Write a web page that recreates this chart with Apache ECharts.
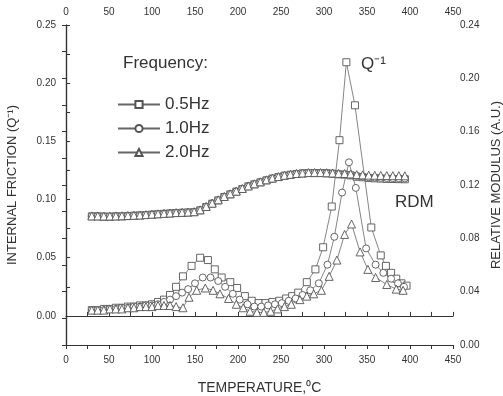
<!DOCTYPE html>
<html>
<head>
<meta charset="utf-8">
<script src="https://cdn.jsdelivr.net/npm/echarts@6/dist/echarts.min.js"></script>
<style>
  html, body { margin: 0; padding: 0; background: #fff; }
  #chart { width: 503px; height: 396px; }
</style>
</head>
<body>
<div id="chart"></div>
<script>
// temperatures (°C) and internal friction Q^-1 for each frequency
const tempQ05 = [30,37,44,51,58,65,72,79,86,93,100,107,114,121,128,136,146,156,165,173,181,191,199,208,216,224,232,240,248,256,263,270,280,290,299,309,318,326,336,355,366,372,378,384,390,396];
const q05 = [0.005,0.005,0.006,0.006,0.007,0.007,0.008,0.008,0.009,0.009,0.010,0.012,0.014,0.018,0.025,0.034,0.043,0.050,0.048,0.040,0.033,0.029,0.024,0.017,0.013,0.011,0.011,0.012,0.013,0.015,0.017,0.020,0.029,0.040,0.059,0.094,0.151,0.218,0.181,0.076,0.052,0.043,0.037,0.032,0.028,0.026];

const tempQ10 = [30,37,44,51,58,65,72,79,86,93,100,107,114,121,128,135,142,150,159,168,177,185,194,202,211,219,227,235,243,251,259,267,275,284,294,304,312,321,329,337,349,360,369,378,386,393];
const q10 = [0.005,0.005,0.005,0.006,0.006,0.007,0.007,0.008,0.008,0.009,0.009,0.010,0.012,0.014,0.017,0.020,0.023,0.028,0.033,0.033,0.030,0.025,0.019,0.014,0.010,0.008,0.008,0.009,0.010,0.011,0.013,0.015,0.018,0.022,0.028,0.044,0.068,0.106,0.132,0.110,0.058,0.044,0.037,0.032,0.028,0.025];

const tempQ20 = [30,37,44,51,58,65,72,79,86,93,100,107,114,121,128,136,143,152,162,171,179,189,198,206,214,222,230,238,246,254,262,272,280,288,297,306,315,324,332,342,351,360,373,384,392];
const q20 = [0.005,0.005,0.005,0.006,0.006,0.006,0.007,0.007,0.008,0.008,0.008,0.009,0.009,0.009,0.008,0.007,0.016,0.022,0.024,0.022,0.019,0.015,0.010,0.007,0.004,0.003,0.003,0.004,0.006,0.008,0.010,0.014,0.017,0.019,0.022,0.034,0.048,0.070,0.079,0.055,0.040,0.033,0.027,0.023,0.022];

// relative modulus (right axis)
const tempRdm = [30,37,44,51,58,65,72,79,86,93,100,107,114,121,128,135,142,149,156,163,170,177,184,191,198,205,212,219,226,233,240,247,254,261,268,275,282,289,296,303,310,317,324,331,338,345,352,359,366,373,380,387,394];
const rdm05 = [0.0965,0.0965,0.0963,0.0963,0.0965,0.0965,0.0967,0.0970,0.0972,0.0975,0.0978,0.0981,0.0984,0.0987,0.0990,0.0992,0.0994,0.0996,0.1010,0.1035,0.1060,0.1085,0.1110,0.1130,0.1150,0.1170,0.1190,0.1205,0.1220,0.1235,0.1248,0.1260,0.1270,0.1277,0.1283,0.1287,0.1290,0.1290,0.1290,0.1288,0.1285,0.1280,0.1278,0.1272,0.1262,0.1258,0.1252,0.1250,0.1248,0.1246,0.1245,0.1244,0.1243];
const rdm10 = [0.0967,0.0966,0.0965,0.0965,0.0966,0.0967,0.0969,0.0971,0.0973,0.0976,0.0979,0.0982,0.0985,0.0988,0.0991,0.0993,0.0995,0.0998,0.1012,0.1037,0.1062,0.1087,0.1112,0.1132,0.1152,0.1172,0.1191,0.1207,0.1222,0.1237,0.1250,0.1261,0.1271,0.1278,0.1284,0.1288,0.1291,0.1291,0.1291,0.1289,0.1286,0.1282,0.1280,0.1276,0.1268,0.1264,0.1258,0.1256,0.1254,0.1252,0.1251,0.1250,0.1249];
const rdm20 = [0.0968,0.0968,0.0967,0.0967,0.0968,0.0969,0.0971,0.0973,0.0975,0.0978,0.0981,0.0984,0.0987,0.0990,0.0993,0.0995,0.0997,0.1000,0.1014,0.1039,0.1064,0.1089,0.1114,0.1134,0.1154,0.1174,0.1193,0.1209,0.1224,0.1239,0.1252,0.1263,0.1273,0.1280,0.1286,0.1290,0.1293,0.1293,0.1293,0.1292,0.1290,0.1287,0.1286,0.1283,0.1278,0.1276,0.1274,0.1273,0.1272,0.1271,0.1270,0.1270,0.1269];

const freqNames = ['0.5Hz', '1.0Hz', '2.0Hz'];
const xTicks = [0, 50, 100, 150, 200, 250, 300, 350, 400, 450];

const zip = (xs, ys) => xs.map((x, i) => [x, ys[i]]);

const font = 'Liberation Sans, Arial, sans-serif';
const ink = '#333';

const myChart = echarts.init(document.getElementById('chart'), null, { renderer: 'canvas' });

const mkSeries = (name, symbol, data, yAxisIndex) => ({
  name: name,
  type: 'line',
  xAxisIndex: 0,
  yAxisIndex: yAxisIndex,
  data: data,
  symbol: symbol,
  symbolSize: symbol === 'triangle' ? 8 : 7,
  showAllSymbol: true,
  lineStyle: { color: '#666', width: 0.8 },
  itemStyle: { color: '#fff', borderColor: '#555', borderWidth: 0.9 },
  animation: false,
  z: 2,
});

const axisCommon = {
  axisLine: { lineStyle: { color: ink, width: 1.2 } },
  axisTick: { inside: true, length: 4, lineStyle: { color: ink } },
  axisLabel: { color: ink, fontSize: 10, fontFamily: font },
  splitLine: { show: false },
};

var option = {
  backgroundColor: '#fff',
  animation: false,
  grid: { left: 66, right: 50, top: 25, bottom: 51, outerBoundsMode: 'none', containLabel: false },
  title: {
    text: 'Frequency:',
    left: 118, top: 50,
    textStyle: { fontSize: 17, fontWeight: 'normal', color: ink, fontFamily: font },
  },
  legend: {
    data: freqNames,
    orient: 'vertical',
    left: 112, top: 91,
    itemWidth: 42, itemHeight: 9, itemGap: 7,
    textStyle: { fontSize: 17, color: ink, fontFamily: font },
    inactiveColor: '#ccc',
  },
  xAxis: [
    Object.assign({}, axisCommon, {
      type: 'value', position: 'bottom', min: 0, max: 450, interval: 25,
      axisLabel: Object.assign({}, axisCommon.axisLabel, {
        margin: 10,
        formatter: v => (xTicks.indexOf(v) >= 0 ? String(v) : ''),
      }),
      name: 'TEMPERATURE,\u2070C', nameLocation: 'middle', nameGap: 36,
      nameTextStyle: { fontSize: 14, color: ink, fontFamily: font },
    }),
    Object.assign({}, axisCommon, {
      type: 'value', position: 'top', min: 0, max: 450, interval: 25,
      axisLabel: Object.assign({}, axisCommon.axisLabel, {
        margin: 8,
        formatter: v => (xTicks.indexOf(v) >= 0 ? String(v) : ''),
      }),
    }),
  ],
  yAxis: [
    Object.assign({}, axisCommon, {
      type: 'value', position: 'left', min: -0.025, max: 0.25, interval: 0.025,
      axisLabel: Object.assign({}, axisCommon.axisLabel, {
        margin: 10,
        formatter: v => {
          const k = Math.round(v / 0.025);
          return (k >= 0 && k % 2 === 0) ? (k * 0.025).toFixed(2) : '';
        },
      }),
      name: 'INTERNAL FRICTION (Q\u207B\u00B9)', nameLocation: 'middle', nameGap: 47, nameRotate: 90,
      nameTextStyle: { fontSize: 13, color: ink, fontFamily: font },
    }),
    Object.assign({}, axisCommon, {
      type: 'value', position: 'right', min: 0, max: 0.24, interval: 0.02,
      axisLabel: Object.assign({}, axisCommon.axisLabel, {
        margin: 7,
        formatter: v => {
          const k = Math.round(v / 0.02);
          return k % 2 === 0 ? (k * 0.02).toFixed(2) : '';
        },
      }),
      name: 'RELATIVE MODULUS (A.U.)', nameLocation: 'middle', nameGap: 32, nameRotate: 90,
      nameTextStyle: { fontSize: 13, color: ink, fontFamily: font },
    }),
  ],
  graphic: [
    {
      type: 'text', left: 361, top: 56,
      style: { text: 'Q\u207B\u00B9', fontSize: 17, fill: ink, fontFamily: font },
    },
    {
      type: 'text', left: 395, top: 194,
      style: { text: 'RDM', fontSize: 17, fill: ink, fontFamily: font },
    },
  ],
  series: [
    mkSeries(freqNames[0], 'rect', zip(tempRdm, rdm05), 1),
    mkSeries(freqNames[1], 'circle', zip(tempRdm, rdm10), 1),
    mkSeries(freqNames[2], 'triangle', zip(tempRdm, rdm20), 1),
    mkSeries(freqNames[0], 'rect', zip(tempQ05, q05), 0),
    mkSeries(freqNames[1], 'circle', zip(tempQ10, q10), 0),
    mkSeries(freqNames[2], 'triangle', zip(tempQ20, q20), 0),
  ],
};
myChart.setOption(option);

window.addEventListener('resize', () => {
  myChart?.resize();
});
</script>
</body>
</html>
